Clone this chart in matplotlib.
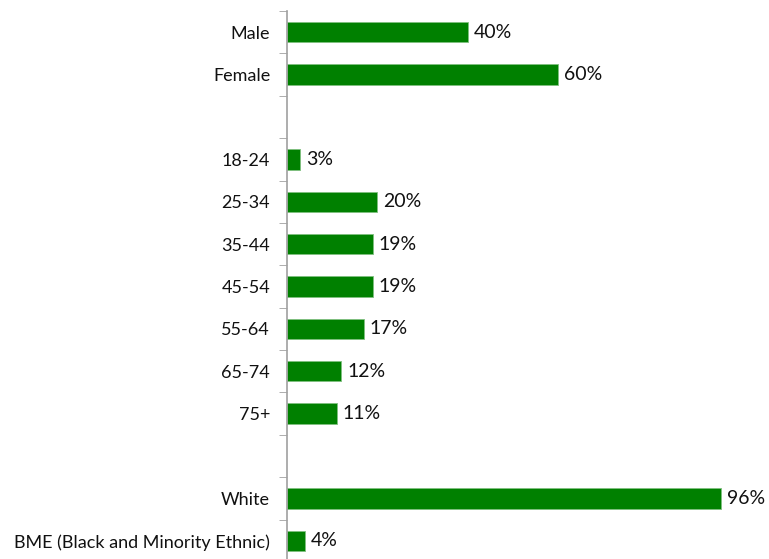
import matplotlib.pyplot as plt
import numpy as np

# Respondent profile: gender, age band, ethnicity
categories = ["Male", "Female", "",
              "18-24", "25-34", "35-44", "45-54", "55-64", "65-74", "75+", "",
              "White", "BME (Black and Minority Ethnic)"]
values = [40, 60, None, 3, 20, 19, 19, 17, 12, 11, None, 96, 4]

plt.rcParams['font.family'] = ['Lato', 'DejaVu Sans']

fig = plt.figure(figsize=(7.69, 5.59), dpi=100)
ax = fig.add_axes([0.373, -0.0054, 0.588, 0.9857])

y = np.arange(len(categories))
for yi, v in zip(y, values):
    if v is None:
        continue
    ax.barh(yi, v, height=0.48, color="#008000", edgecolor="#7fc07f", linewidth=0.6)
    ax.text(v + 1.3, yi, f"{v}%", va="center", ha="left", fontsize=14, color="#111111")

ax.set_xlim(0, 100)
ax.set_ylim(len(categories) - 0.5, -0.5)
ax.set_yticks(y)
ax.set_yticklabels(categories, fontsize=13, color="#111111")
ax.set_yticks(np.arange(-0.5, len(categories), 1), minor=True)
ax.tick_params(axis="y", which="major", length=0, pad=12)
ax.tick_params(axis="y", which="minor", length=6, color="#a0a0a0", direction="out")
ax.set_xticks([])
for side in ["top", "right", "bottom"]:
    ax.spines[side].set_visible(False)
ax.spines["left"].set_color("#a0a0a0")
ax.spines["left"].set_linewidth(1.2)

fig.savefig("out.png", dpi=100)
